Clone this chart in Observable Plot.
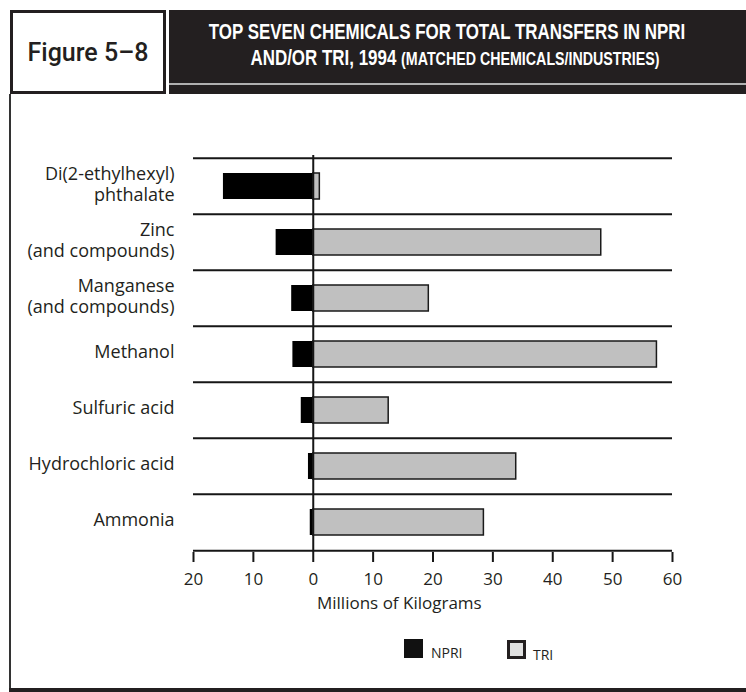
<!DOCTYPE html>
<html><head><meta charset="utf-8">
<script src="https://cdn.jsdelivr.net/npm/d3@7"></script>
<script src="https://cdn.jsdelivr.net/npm/@observablehq/plot@0.6"></script>
<style>
body{margin:0;background:#fff;}
#wrap{position:relative;width:746px;height:692px;overflow:hidden;font-family:"Open Sans",sans-serif;color:#231f20;background:#fff;}
#figbox{position:absolute;left:10px;top:10px;width:150px;height:78px;border:3px solid #231f20;font-family:Roboto,sans-serif;font-size:25px;font-weight:500;display:flex;align-items:center;justify-content:center;color:#231f20;}
#band{position:absolute;left:169px;top:10px;width:577px;height:84px;background:#231f20;}
#grayline{position:absolute;left:0;top:73px;width:577px;height:2px;background:#b0b0b0;}
.tl{position:absolute;left:-102px;width:760px;text-align:center;color:#fff;font-family:"Liberation Sans",Arial,sans-serif;font-weight:bold;font-size:22px;line-height:26px;white-space:nowrap;transform:scaleX(0.77);transform-origin:380px 0;}
.tl span{font-size:18.5px;}
#leftline{position:absolute;left:9px;top:94px;width:2px;height:596px;background:#333;}
#bottomline{position:absolute;left:9px;top:688px;width:737px;height:4px;background:#231f20;}
#chart{position:absolute;left:0;top:100px;}
#xlabel{position:absolute;left:317px;top:593px;font-size:17px;line-height:20px;white-space:nowrap;}
.sw{position:absolute;width:19px;height:19px;box-sizing:border-box;}
.lt{position:absolute;font-size:14px;line-height:16px;white-space:nowrap;}
</style></head><body>
<div id="wrap">
  <div id="figbox">Figure 5–8</div>
  <div id="band"><div id="grayline"></div>
    <div class="tl" style="top:9px;">TOP SEVEN CHEMICALS FOR TOTAL TRANSFERS IN NPRI</div>
    <div class="tl" style="top:35px;left:-94px;">AND/OR TRI, 1994 <span>(MATCHED CHEMICALS/INDUSTRIES)</span></div>
  </div>
  <div id="leftline"></div>
  <div id="bottomline"></div>
  <div id="chart"></div>
  <div id="xlabel">Millions of Kilograms</div>
  <div class="sw" style="left:404px;top:639px;background:#111;"></div>
  <div class="lt" style="left:431px;top:645px;">NPRI</div>
  <div class="sw" style="left:507px;top:640px;background:#e0e0e0;border:3px solid #231f20;"></div>
  <div class="lt" style="left:533px;top:647px;">TRI</div>
</div>
<script>
const chemicals = ["Di(2-ethylhexyl)\nphthalate", "Zinc\n(and compounds)", "Manganese\n(and compounds)", "Methanol", "Sulfuric acid", "Hydrochloric acid", "Ammonia"];
const npri = [15.0, 6.2, 3.6, 3.4, 2.0, 0.8, 0.5];
const tri = [1.1, 48.1, 19.3, 57.4, 12.6, 33.9, 28.5];
const xTicks = [-20, -10, 0, 10, 20, 30, 40, 50, 60];

const rows = chemicals.map((c, i) => ({chem: c, npri: npri[i], tri: tri[i]}));

const W = 746, H = 520, mT = 55, mB = 68, mL = 193, mR = 74;
const step = (H - mT - mB) / chemicals.length;
const ink = "#161616";

const chart = Plot.plot({
  width: W, height: H,
  marginTop: mT, marginBottom: mB, marginLeft: mL, marginRight: mR,
  style: {fontFamily: "Open Sans, sans-serif", fontSize: "17px", color: "#231f20", background: "transparent", overflow: "visible"},
  x: {domain: [-20, 60]},
  y: {domain: chemicals, padding: 0},
  marks: [
    Plot.ruleY(chemicals, {y: d => d, dy: -step / 2, stroke: ink, strokeWidth: 2}),
    Plot.ruleY([chemicals[chemicals.length - 1]], {y: d => d, dy: step / 2, stroke: ink, strokeWidth: 2}),
    Plot.barX(rows, {y: "chem", x1: 0, x2: d => -d.npri, fill: "#000", insetTop: 15, insetBottom: 15}),
    Plot.barX(rows, {y: "chem", x1: 0, x2: "tri", fill: "#c0c0c0", stroke: "#1a1a1a", strokeWidth: 1.5, insetTop: 15, insetBottom: 15}),
    Plot.ruleX([0], {stroke: ink, strokeWidth: 2}),
    Plot.axisX({ticks: xTicks, tickFormat: d => String(Math.abs(d)), tickSize: 10, tickPadding: 10, strokeWidth: 2, stroke: ink, label: null, fontSize: 17}),
    Plot.axisY({tickSize: 0, tickPadding: 19, label: null, lineHeight: 1.16, fontSize: 18, dy: -3})
  ]
});
document.getElementById("chart").appendChild(chart);
</script>
</body></html>
